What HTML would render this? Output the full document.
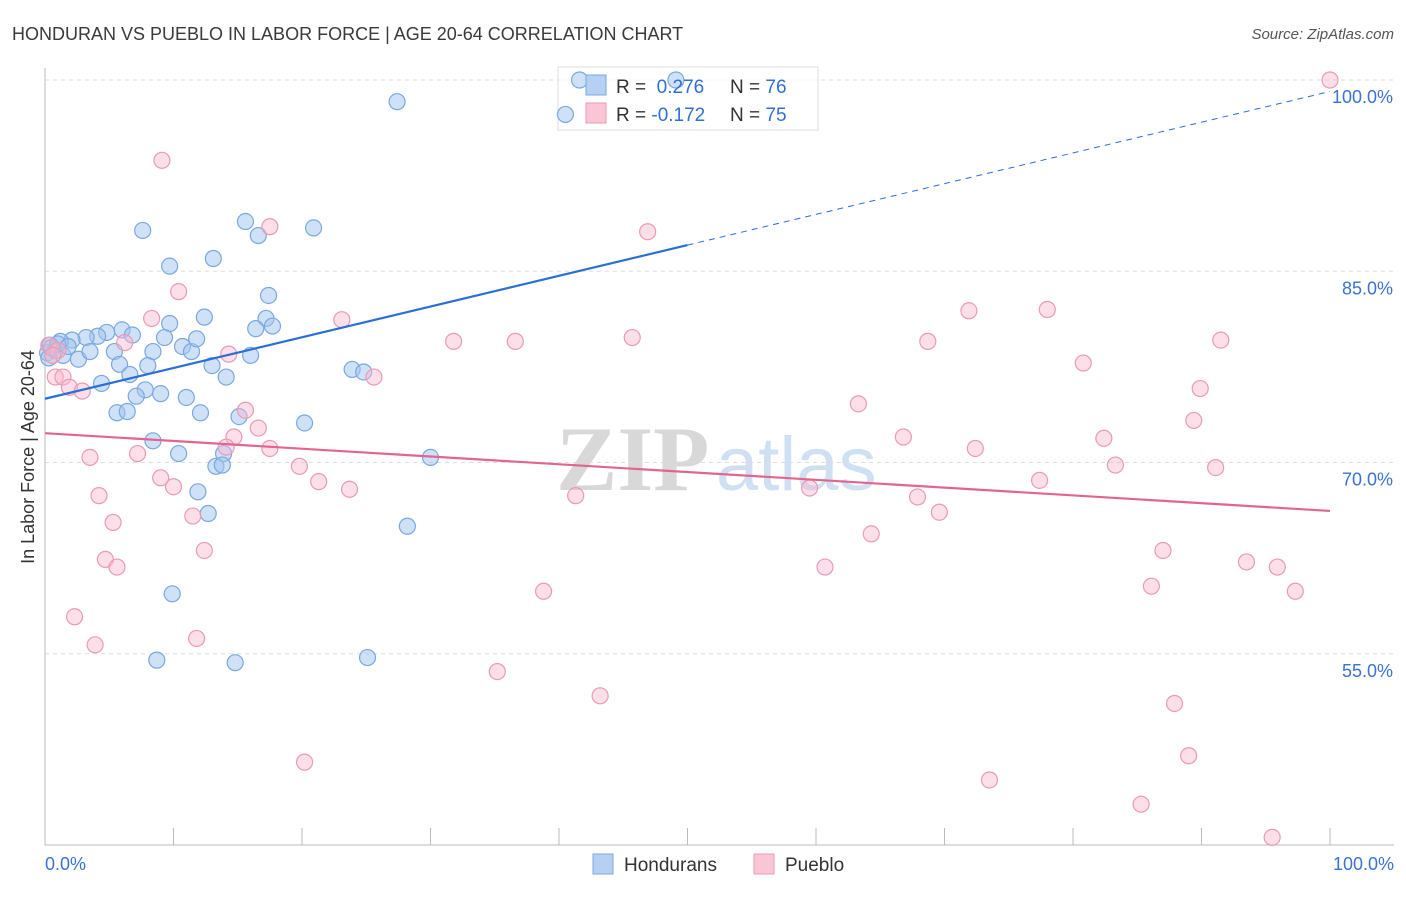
<!DOCTYPE html>
<html><head><meta charset="utf-8"><style>
body{margin:0;background:#fff;font-family:"Liberation Sans",sans-serif;}
</style></head><body>
<svg id="chart" width="1406" height="892" xmlns="http://www.w3.org/2000/svg" font-family="Liberation Sans, sans-serif">
<text x="12" y="40" font-size="18" fill="#3a3a3a">HONDURAN VS PUEBLO IN LABOR FORCE | AGE 20-64 CORRELATION CHART</text>
<text x="1394" y="39" font-size="15" fill="#555" text-anchor="end" font-style="italic">Source: ZipAtlas.com</text>
<text transform="translate(34,457) rotate(-90)" font-size="18" fill="#333" text-anchor="middle">In Labor Force | Age 20-64</text>
<g font-size="92" font-family="Liberation Serif, serif">
<text x="556" y="490" fill="#d8d8d8" font-weight="bold">ZIP</text>
<text x="716" y="490" fill="#cfe0f2" font-family="Liberation Sans, sans-serif" font-size="76">atlas</text>
</g>
<g id="grid"></g><g id="axes"></g>
<rect x="558" y="67" width="260" height="63" fill="rgba(255,255,255,0.7)" stroke="#ddd"/>
<g id="pts"></g><g id="lines"></g>
<g>
<rect x="586" y="75" width="20" height="20" fill="#b5d0f3" stroke="#7aa8e0"/>
<rect x="586" y="103" width="20" height="20" fill="#fac6d5" stroke="#ea9ab2"/>
<text x="616" y="93" font-size="19" fill="#333">R = <tspan fill="#2e6fd8">&#160;0.276</tspan><tspan x="730">N = </tspan><tspan fill="#2e6fd8">76</tspan></text>
<text x="616" y="121" font-size="19" fill="#333">R = <tspan fill="#2e6fd8">-0.172</tspan><tspan x="730">N = </tspan><tspan fill="#2e6fd8">75</tspan></text>
</g>
<g>
<rect x="593" y="854" width="20" height="20" fill="#b5d0f3" stroke="#7aa8e0"/>
<text x="624" y="871" font-size="19" fill="#333">Hondurans</text>
<rect x="754" y="854" width="20" height="20" fill="#fac6d5" stroke="#ea9ab2"/>
<text x="785" y="871" font-size="19" fill="#333">Pueblo</text>
</g>
</svg>
<script>
const yTicks=[100,85,70,55];
const yTickLabels=["100.0%","85.0%","70.0%","55.0%"];
const xTickLabels=["0.0%","100.0%"];
const hondX=[27.4,7.6,15.6,16.6,20.9,9.7,13.1,17.4,12.4,17.2,16.4,17.7,9.7,6.0,6.8,4.8,4.1,3.2,2.1,1.2,0.4,0.2,0.8,1.4,2.6,3.5,5.4,8.4,9.3,10.7,11.4,11.8,16.0,5.8,8.0,13.0,6.6,14.1,4.4,7.8,9.0,7.1,11.0,5.6,6.4,12.1,15.1,20.2,23.9,24.8,8.4,10.4,13.9,30.0,13.3,13.8,11.9,12.7,28.2,9.9,8.7,14.8,25.1,41.6,49.1,40.5,0.5,1.0,0.3,1.8];
const hondY=[98.3,88.2,88.9,87.8,88.4,85.4,86.0,83.1,81.4,81.3,80.5,80.7,80.9,80.4,80.0,80.2,79.9,79.8,79.6,79.5,79.2,78.6,78.8,78.4,78.1,78.7,78.7,78.7,79.8,79.1,78.7,79.7,78.4,77.7,77.6,77.6,76.9,76.7,76.2,75.7,75.4,75.2,75.1,73.9,74.0,73.9,73.6,73.1,77.3,77.1,71.7,70.7,70.7,70.4,69.7,69.8,67.7,66.0,65.0,59.7,54.5,54.3,54.7,100,100,97.3,79.0,79.3,78.2,79.1];
const puebX=[100,9.1,46.9,17.5,10.4,8.3,23.1,71.9,78.0,68.7,91.5,45.7,31.8,36.6,80.8,6.2,14.3,25.6,0.8,1.4,1.9,2.9,89.9,63.3,15.6,89.4,16.6,14.7,66.8,82.4,72.4,14.1,17.5,7.2,3.5,83.3,91.1,19.8,9.0,10.0,21.3,77.4,23.7,59.5,4.2,41.3,67.9,69.6,11.5,5.3,64.3,12.4,87.0,4.7,5.6,60.7,93.5,95.9,86.1,97.3,38.8,2.3,11.8,3.9,35.2,43.2,87.9,89.0,20.2,73.5,85.3,95.5,0.3,1.0,0.6];
const puebY=[100,93.7,88.1,88.5,83.4,81.3,81.2,81.9,82.0,79.5,79.6,79.8,79.5,79.5,77.8,79.4,78.5,76.7,76.7,76.7,75.9,75.6,75.8,74.6,74.1,73.3,72.7,72.0,72.0,71.9,71.1,71.2,71.1,70.7,70.4,69.8,69.6,69.7,68.8,68.1,68.5,68.6,67.9,68.0,67.4,67.4,67.3,66.1,65.8,65.3,64.4,63.1,63.1,62.4,61.8,61.8,62.2,61.8,60.3,59.9,59.9,57.9,56.2,55.7,53.6,51.7,51.1,47.0,46.5,45.1,43.2,40.6,79.2,78.8,78.4];
const hondTrend=[75.0,99.1];
const puebTrend=[72.3,66.2];
const NS="http://www.w3.org/2000/svg";
const X=v=>45+v*12.85, Y=v=>80+(100-v)*12.75;
function mk(t,a,p){const e=document.createElementNS(NS,t);for(const k in a)e.setAttribute(k,a[k]);p.appendChild(e);return e;}
const grid=document.getElementById('grid'),axes=document.getElementById('axes'),pts=document.getElementById('pts'),lines=document.getElementById('lines');
yTicks.forEach((t,i)=>{
 const g=mk('line',{x1:45,x2:1394,y1:Y(t),y2:Y(t),stroke:'#ddd','stroke-dasharray':'4,4'},grid);
 
 
 const l=mk('text',{x:1393,y:Y(t)+23,'font-size':18,fill:'#3a72d4','text-anchor':'end'},axes);
 l.textContent=yTickLabels[i];
 
 
});
mk('line',{x1:45,x2:45,y1:68,y2:845,stroke:'#bbb'},axes);
mk('line',{x1:45,x2:1394,y1:845,y2:845,stroke:'#bbb'},axes);
for(let i=0;i<=10;i++){const t=mk('line',{x1:X(i*10),x2:X(i*10),y1:828,y2:845,stroke:'#bbb'},axes);
 
 }
[[0,'start',45],[1,'end',1394]].forEach(([i,a,x])=>{const l=mk('text',{x:x,y:870,'font-size':18,fill:'#3a72d4','text-anchor':a},axes);l.textContent=xTickLabels[i];
 
 });
hondX.forEach((x,i)=>{const c=mk('circle',{cx:X(x),cy:Y(hondY[i]),r:8,fill:'rgba(160,195,240,0.5)',stroke:'#7aa8e0','stroke-width':1.2},pts);
 
 });
puebX.forEach((x,i)=>{const c=mk('circle',{cx:X(x),cy:Y(puebY[i]),r:8,fill:'rgba(248,185,205,0.45)',stroke:'#eb9ab4','stroke-width':1.2},pts);
 
 });
const hm=v=>hondTrend[0]+(hondTrend[1]-hondTrend[0])*v/100;
const l1=mk('line',{x1:X(0),y1:Y(hm(0)),x2:X(50),y2:Y(hm(50)),stroke:'#2a6fd6','stroke-width':2.2},lines);


const l2=mk('line',{x1:X(50),y1:Y(hm(50)),x2:X(100),y2:Y(hm(100)),stroke:'#2a6fd6','stroke-width':1,'stroke-dasharray':'6,5'},lines);


const l3=mk('line',{x1:X(0),y1:Y(puebTrend[0]),x2:X(100),y2:Y(puebTrend[1]),stroke:'#e4648f','stroke-width':2.2},lines);


</script>
</body></html>
